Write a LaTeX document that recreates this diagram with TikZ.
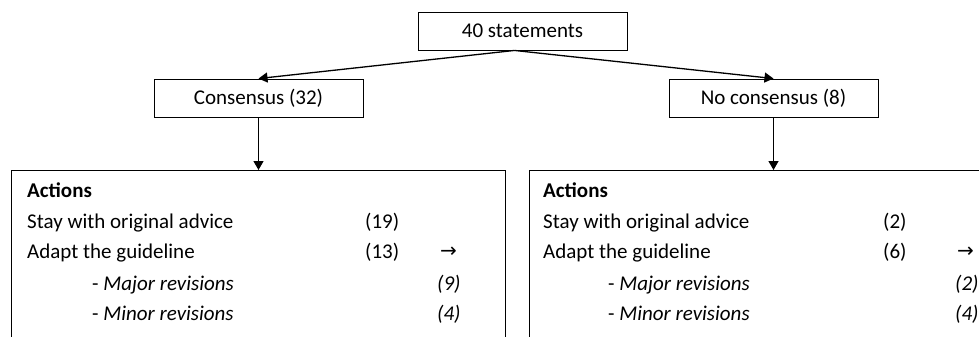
\documentclass[tikz,border=0pt]{standalone}
\usepackage{fontspec}
\setmainfont{Carlito}
\newfontfamily\arrowfont{DejaVu Sans}
\usetikzlibrary{arrows.meta}

\tikzset{
  box/.style={draw, line width=0.9pt, minimum height=38pt, minimum width=209pt, inner sep=0pt},
  panel/.style={draw, line width=0.9pt, anchor=north west, minimum width=494pt, minimum height=220pt},
  item/.style={anchor=base west, inner sep=0pt},
  link/.style={line width=1.3pt, -{Triangle[length=9pt,width=10pt]}}
}

\begin{document}
\begin{tikzpicture}[x=1pt,y=-1pt,font=\fontsize{21}{25}\selectfont]
    \useasboundingbox (0,0) rectangle (979,337);
    \clip (0,0) rectangle (979,337);

    \node[box](S) at (522.5, 31) {40 statements};
    \node[box](C) at (258.5, 98) {Consensus (32)};
    \node[box](NC) at (773.5, 98) {No consensus (8)};

    \node[panel](A1) at (11, 170) {};
    \node[panel](A2) at (529, 170) {};

    % left panel
    \node[item](head1) at (27, 197) {\textbf{Actions}};
    \node[item](stay1) at (27, 228) {Stay with original advice};
    \node[item](adapt1) at (27, 258) {Adapt the guideline};
    \node[item](major1) at (92, 290) {- \textit{Major revisions}};
    \node[item](minor1) at (92, 320) {- \textit{Minor revisions}};
    \node[item](nstay1) at (365, 228) {(19)};
    \node[item](nadapt1) at (365, 258) {(13)};
    \node[item](arr1) at (440, 257) {\arrowfont\fontsize{20}{22}\selectfont →};
    \node[item](nmajor1) at (437, 290) {\textit{(9)}};
    \node[item](nminor1) at (437, 320) {\textit{(4)}};

    % right panel
    \node[item](head2) at (543, 197) {\textbf{Actions}};
    \node[item](stay2) at (543, 228) {Stay with original advice};
    \node[item](adapt2) at (543, 258) {Adapt the guideline};
    \node[item](major2) at (608, 290) {- \textit{Major revisions}};
    \node[item](minor2) at (608, 320) {- \textit{Minor revisions}};
    \node[item](nstay2) at (883, 228) {(2)};
    \node[item](nadapt2) at (883, 258) {(6)};
    \node[item](arr2) at (957, 257) {\arrowfont\fontsize{20}{22}\selectfont →};
    \node[item](nmajor2) at (955, 290) {\textit{(2)}};
    \node[item](nminor2) at (955, 320) {\textit{(4)}};

    \draw[link] ([xshift=-8pt]S.south) -- (C.north);
    \draw[link] ([xshift=-8pt]S.south) -- (NC.north);
    \draw[link] (C.south) -- (C.south |- A1.north);
    \draw[link] (NC.south) -- (NC.south |- A2.north);
\end{tikzpicture}
\end{document}
